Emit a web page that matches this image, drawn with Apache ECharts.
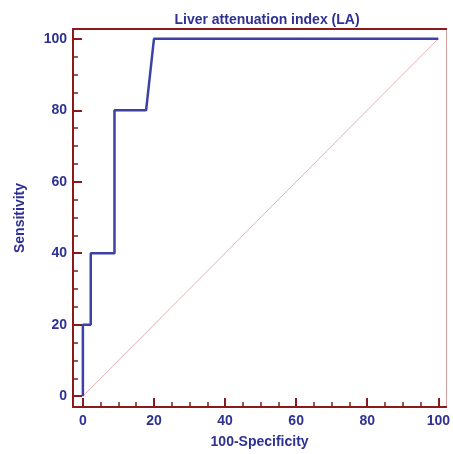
<!DOCTYPE html>
<html>
<head>
<meta charset="utf-8">
<script src="https://cdn.jsdelivr.net/npm/echarts@6/dist/echarts.min.js"></script>
<style>html,body{margin:0;padding:0;background:#fff;}#c{width:453px;height:454px;}</style>
</head>
<body>
<div id="c"></div>
<script>
const titleText = 'Liver attenuation index (LA)';
const xName = '100-Specificity';
const yName = 'Sensitivity';
const rocX = [0, 0, 2.22, 2.22, 8.89, 8.89, 17.78, 20, 100];
const rocY = [0, 20, 20, 40, 40, 80, 80, 100, 100];
const refX = [0, 100];
const refY = [0, 100];
const majorTicks = [0, 20, 40, 60, 80, 100];
const minorTicks = [0,5,10,15,20,25,30,35,40,45,50,55,60,65,70,75,80,85,90,95,100];

const frame = '#8b1a1a';
const txt = '#2e3192';
const font = 'Liberation Sans, Arial, sans-serif';
const xMin = -2.78, xMax = 102.22, yMin = -3.04, yMax = 102.76;

const chart = echarts.init(document.getElementById('c'));
function xa(extra) {
  return Object.assign({
    type: 'value', min: xMin, max: xMax, position: 'bottom',
    splitLine: {show: false}, axisLine: {show: false, onZero: false}, axisTick: {show: false}, axisLabel: {show: false}
  }, extra);
}
function ya(extra) {
  return Object.assign({
    type: 'value', min: yMin, max: yMax, position: 'left',
    splitLine: {show: false}, axisLine: {show: false, onZero: false}, axisTick: {show: false}, axisLabel: {show: false}
  }, extra);
}
chart.setOption({
  animation: false,
  title: {
    text: titleText, left: 262, top: 8, textAlign: 'center',
    textStyle: {color: txt, fontSize: 14, fontWeight: 'bold', fontFamily: font}
  },
  grid: {left: 73, right: 2, top: 29, bottom: 42},
  xAxis: [
    xa({
      axisLine: {show: true, onZero: false, lineStyle: {color: frame, width: 2}},
      axisTick: {show: true, inside: true, length: 9, customValues: majorTicks, lineStyle: {color: frame, width: 2}},
      axisLabel: {show: true, customValues: majorTicks, margin: 7, color: txt, fontSize: 14, fontWeight: 'bold', fontFamily: font},
      name: xName, nameLocation: 'middle', nameGap: 28,
      nameTextStyle: {color: txt, fontSize: 14, fontWeight: 'bold', fontFamily: font}
    }),
    xa({
      axisLine: {show: false, onZero: false},
      axisTick: {show: true, inside: true, length: 5, customValues: minorTicks, lineStyle: {color: frame, width: 1.5}}
    }),
    xa({
      position: 'top',
      axisLine: {show: true, onZero: false, lineStyle: {color: frame, width: 2}}
    })
  ],
  yAxis: [
    ya({
      axisLine: {show: true, onZero: false, lineStyle: {color: frame, width: 2}},
      axisTick: {show: true, inside: true, length: 9, customValues: majorTicks, lineStyle: {color: frame, width: 2}},
      axisLabel: {show: true, customValues: majorTicks, margin: 6, color: txt, fontSize: 14, fontWeight: 'bold', fontFamily: font},
      name: yName, nameLocation: 'middle', nameGap: 46, nameRotate: 90,
      nameTextStyle: {color: txt, fontSize: 14, fontWeight: 'bold', fontFamily: font}
    }),
    ya({
      axisLine: {show: false, onZero: false},
      axisTick: {show: true, inside: true, length: 5, customValues: minorTicks, lineStyle: {color: frame, width: 1.5}}
    }),
    ya({
      position: 'right',
      axisLine: {show: true, onZero: false, lineStyle: {color: '#d9a0a0', width: 1}}
    })
  ],
  series: [
    {
      type: 'line', xAxisIndex: 0, yAxisIndex: 0, symbol: 'none', silent: true,
      data: refX.map((v, i) => [v, refY[i]]),
      lineStyle: {color: '#eab0b8', width: 1}
    },
    {
      type: 'line', xAxisIndex: 0, yAxisIndex: 0, symbol: 'none', silent: true,
      data: rocX.map((v, i) => [v, rocY[i]]),
      lineStyle: {color: '#3d41a3', width: 2.5}
    }
  ]
});
</script>
</body>
</html>
